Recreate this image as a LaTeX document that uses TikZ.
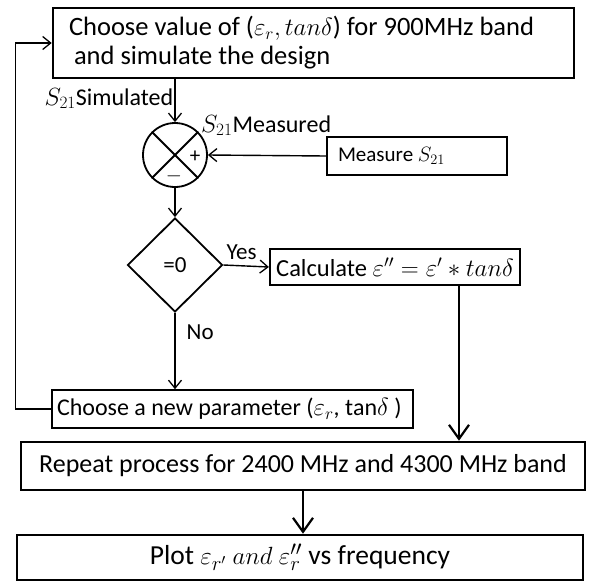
\documentclass[tikz,border=0pt]{standalone}
\usepackage{amsmath}
\usepackage{fontspec}
\setmainfont{Carlito}
\usetikzlibrary{shapes.geometric,arrows.meta,positioning,calc}

\begin{document}
\begin{tikzpicture}[
  x=1pt, y=-1pt,
  bigbox/.style={draw=black, line width=2.6pt, inner sep=0pt, font=\fontsize{26.5}{29}\selectfont},
  smallbox/.style={draw=black, line width=1.6pt, inner sep=0pt, font=\fontsize{21}{25}\selectfont},
  sumnode/.style={circle, draw=black, line width=1.8pt, minimum size=64pt, inner sep=0pt},
  testnode/.style={diamond, draw=black, line width=1.8pt, minimum width=95pt, minimum height=94pt, inner sep=0pt, font=\fontsize{23}{27}\selectfont},
  lbl/.style={font=\fontsize{23}{27}\selectfont, inner sep=1pt},
  arrow/.style={-{Straight Barb[length=8pt, width=13pt, line width=1.3pt]}, line width=1.4pt},
  bigarrow/.style={-{Straight Barb[length=14pt, width=20pt, line width=2.2pt]}, line width=2.4pt}
]
\useasboundingbox (0,0) rectangle (595,582);

% Boxes
\node[bigbox, minimum width=521pt, minimum height=70pt, text width=489pt, align=flush left] (design) at (313.5,43)
  {Choose value of ($\varepsilon_r, tan\delta$) for 900MHz band\\\hspace{5pt}and simulate the design};
\node[sumnode] (sum) at (175,155) {};
\node[smallbox, minimum width=180pt, minimum height=38pt, text width=158pt, align=flush left, font=\fontsize{21}{25}\selectfont] (measure) at (417,156) {Measure $S_{21}$};
\node[testnode] (test) at (175,265) {=0};
\node[bigbox, line width=2.2pt, minimum width=250pt, minimum height=36pt, font=\fontsize{24.5}{28}\selectfont] (calc) at (395,267) {Calculate $\varepsilon'' = \varepsilon' * tan\delta$};
\node[smallbox, minimum width=361pt, minimum height=38pt, text width=351pt, align=flush left, font=\fontsize{24}{27}\selectfont] (newpar) at (232.5,409) {Choose a new parameter ($\varepsilon_r$, $\mathrm{tan}\delta$ )};
\node[bigbox, minimum width=564pt, minimum height=48pt, font=\fontsize{26}{30}\selectfont] (repeat) at (303,466) {Repeat process for 2400 MHz and 4300 MHz band};
\node[bigbox, minimum width=566pt, minimum height=45pt, font=\fontsize{27.5}{31}\selectfont] (plot) at (300,557.5) {Plot $\varepsilon_{r'}$ $and$ $\varepsilon_r''$ vs frequency};

% Summing junction
\draw[line width=1.8pt] (sum.north west) -- (sum.south east);
\draw[line width=1.8pt] (sum.north east) -- (sum.south west);
\node[lbl, font=\fontsize{21}{24}\selectfont] (plus) at (195,157) {+};
\node[lbl, font=\fontsize{21}{24}\selectfont] (minus) at (174,176) {$-$};

% Connections
\draw[arrow] (sum |- design.south) -- node[lbl, left, pos=0.45, font=\fontsize{24}{28}\selectfont] {$S_{21}$Simulated} (sum.north);
\draw[arrow] (measure.west) -- (sum.east);
\node[lbl, anchor=south west, font=\fontsize{24}{28}\selectfont] (measlbl) at (200,137) {$S_{21}$Measured};
\draw[arrow] (sum.south) -- (test.north);
\draw[arrow] (test.east) -- node[lbl, above=4pt, pos=0.4] {Yes} (calc.west);
\draw[arrow] (test.south) -- node[lbl, right, pos=0.25, xshift=10pt] {No} (newpar.north -| test.south);
\draw[arrow] (newpar.west) -- ++(-36,0) |- (design.west);
\draw[bigarrow] ([xshift=64pt]calc.south) -- ([xshift=64pt]calc.south |- repeat.north);
\draw[bigarrow] (repeat.south) -- (repeat.south |- plot.north);

\end{tikzpicture}
\end{document}
